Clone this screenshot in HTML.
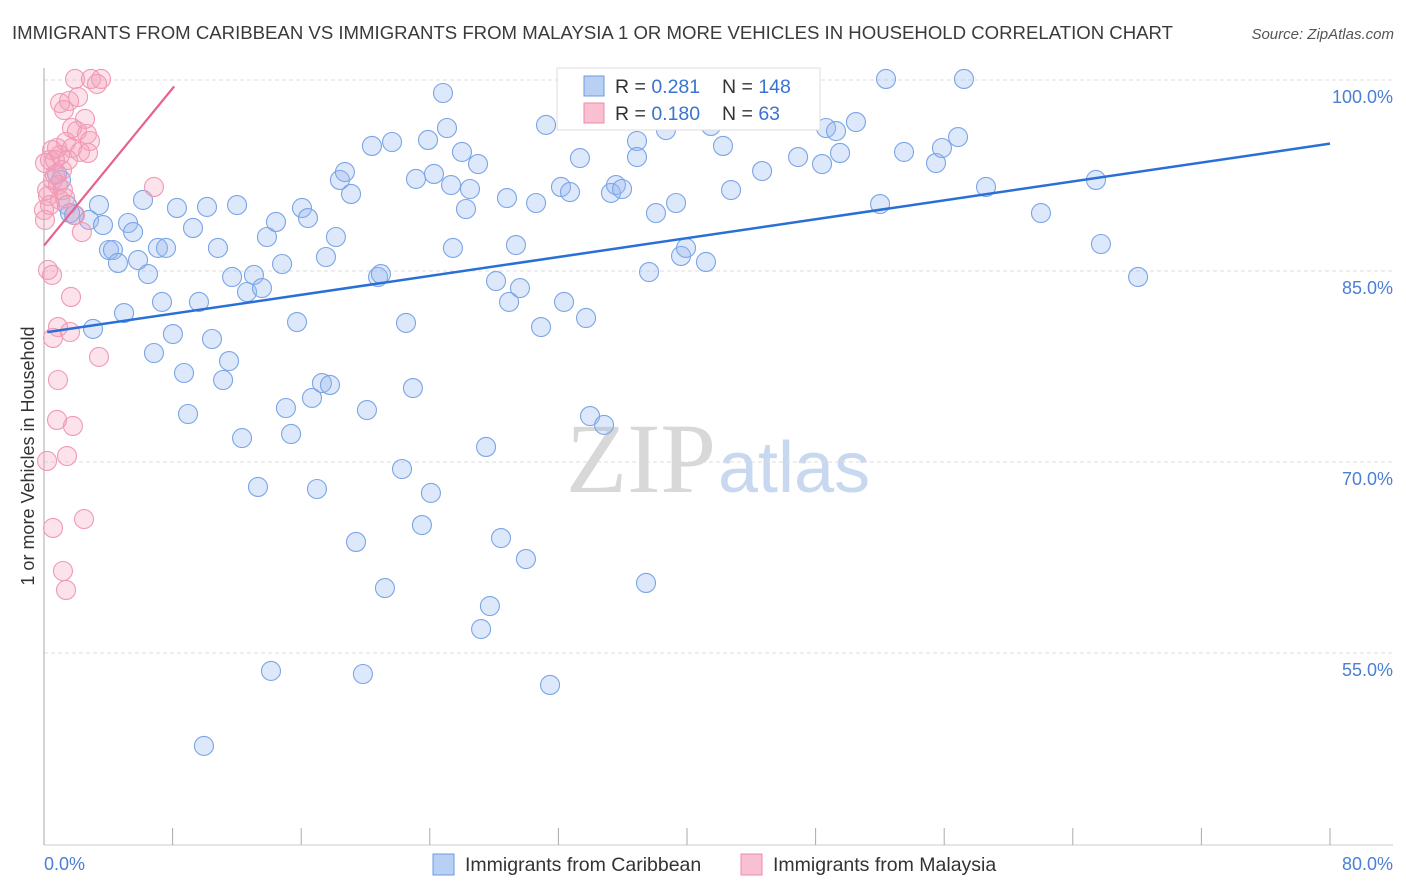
<!DOCTYPE html>
<html><head><meta charset="utf-8"><style>
body{margin:0;background:#fff;font-family:"Liberation Sans",sans-serif;}
svg{display:block}
</style></head><body>
<svg id="chart" width="1406" height="892">
<text x="12" y="39" font-size="18.6" fill="#3a3a3a" textLength="1161">IMMIGRANTS FROM CARIBBEAN VS IMMIGRANTS FROM MALAYSIA 1 OR MORE VEHICLES IN HOUSEHOLD CORRELATION CHART</text>
<text x="1394" y="39" font-size="15" font-style="italic" fill="#555" text-anchor="end">Source: ZipAtlas.com</text>
<text x="716" y="492" font-size="100" font-family="Liberation Serif,serif" fill="#d8d8d8" text-anchor="end">ZIP</text>
<text x="718" y="492" font-size="72" fill="#c8d8f0">atlas</text>
<g id="grid"></g><g id="axes"></g><g id="pts"></g><g id="trends"></g>
<text transform="translate(34,456) rotate(-90)" font-size="18" fill="#333" text-anchor="middle">1 or more Vehicles in Household</text>
<text x="44" y="870" font-size="18" fill="#4a7fd4">0.0%</text>
<text x="1393" y="870" font-size="18" fill="#4a7fd4" text-anchor="end">80.0%</text>
<g>
<rect x="557" y="68" width="263" height="62" fill="#fff" stroke="#ddd"/>
<rect x="584" y="76" width="20" height="20" fill="#b8d0f4" stroke="#6b9be0"/>
<rect x="584" y="103" width="20" height="20" fill="#f8c0d0" stroke="#ee8aaa"/>
<text x="615" y="93" font-size="19.5" fill="#333">R = <tspan fill="#3a74d0">0.281</tspan></text>
<text x="722" y="93" font-size="19.5" fill="#333">N = <tspan fill="#3a74d0">148</tspan></text>
<text x="615" y="120" font-size="19.5" fill="#333">R = <tspan fill="#3a74d0">0.180</tspan></text>
<text x="722" y="120" font-size="19.5" fill="#333">N = <tspan fill="#3a74d0"> 63</tspan></text>
</g>
<g>
<rect x="433" y="854" width="21" height="21" fill="#b8d0f4" stroke="#6b9be0"/>
<text x="465" y="871" font-size="19.5" fill="#333">Immigrants from Caribbean</text>
<rect x="741" y="854" width="21" height="21" fill="#f8c0d0" stroke="#ee8aaa"/>
<text x="773" y="871" font-size="19.5" fill="#333">Immigrants from Malaysia</text>
</g>
</svg>
<script>
const yTicks=[100,85,70,55];
const xTicks=[0,8,16,24,32,40,48,56,64,72,80];
const bluePx=[[67,205],[99,205],[74,215],[89,220],[103,225],[93,329],[109,250],[113,250],[118,263],[124,313],[128,223],[133,232],[143,200],[138,260],[148,274],[154,353],[158,248],[162,302],[166,248],[173,334],[177,208],[184,373],[188,414],[193,228],[199,302],[207,207],[212,339],[218,248],[223,380],[229,361],[232,277],[237,205],[242,438],[247,292],[254,275],[258,487],[262,288],[267,237],[271,671],[276,222],[282,264],[286,408],[291,434],[297,322],[302,208],[308,218],[312,398],[317,489],[322,383],[326,257],[330,385],[336,237],[340,180],[345,172],[351,194],[356,542],[363,674],[367,410],[372,146],[378,277],[381,274],[385,588],[392,142],[402,469],[406,323],[413,388],[416,179],[422,525],[428,140],[431,493],[434,174],[443,93],[447,128],[451,185],[453,248],[462,152],[466,209],[470,189],[478,164],[481,629],[486,447],[490,606],[496,281],[501,538],[507,198],[509,302],[516,245],[520,288],[526,559],[536,203],[541,327],[546,125],[550,685],[561,187],[564,302],[570,192],[580,158],[586,318],[590,416],[604,425],[611,193],[616,185],[622,189],[637,141],[637,157],[646,583],[649,272],[656,213],[666,130],[676,203],[681,256],[686,248],[706,262],[711,126],[723,146],[731,190],[745,107],[763,81],[762,171],[786,100],[798,157],[822,164],[826,128],[836,131],[840,153],[856,122],[880,204],[886,79],[904,152],[936,163],[942,148],[958,137],[964,79],[986,187],[1041,213],[1096,180],[1101,244],[1138,277],[204,746],[61,180],[57,174],[70,213],[779,118],[773,104]];
const pinkPx=[[44,210],[47,190],[45,220],[50,160],[52,150],[55,175],[58,185],[60,155],[48,270],[52,275],[71,297],[58,327],[70,332],[53,338],[99,357],[58,380],[57,420],[73,426],[67,456],[47,461],[84,519],[53,528],[63,571],[66,590],[75,79],[91,79],[101,79],[97,84],[60,103],[69,101],[78,97],[64,110],[85,119],[72,128],[77,131],[87,134],[66,142],[90,141],[72,148],[80,152],[88,153],[68,160],[62,170],[154,187],[65,198],[82,232],[57,148],[55,160],[48,196],[50,205],[53,180],[60,200],[63,190],[75,215],[45,163]];
const blueX=bluePx.map(p=>+((p[0]-44)*80/1286).toFixed(2));
const blueY=bluePx.map(p=>+(100-(p[1]-80)*15/191).toFixed(2));
const pinkX=pinkPx.map(p=>+((p[0]-44)*80/1286).toFixed(2));
const pinkY=pinkPx.map(p=>+(100-(p[1]-80)*15/191).toFixed(2));
const blueTrend=[[0.2,80.2],[80,95.0]];
const pinkTrend=[[0,87.0],[8.1,99.5]];
const sx=v=>44+v*1286/80, sy=v=>80+(100-v)*191/15;
const NS='http://www.w3.org/2000/svg';
function mk(t,a,parent){const e=document.createElementNS(NS,t);for(const k in a)e.setAttribute(k,a[k]);document.getElementById(parent).appendChild(e);return e;}
yTicks.forEach(v=>{
 const l=mk('line',{x1:44,x2:1393,y1:sy(v),y2:sy(v),stroke:'#dcdcdc','stroke-dasharray':'4 3'},'grid');
 
 
 const t=mk('text',{x:1393,y:sy(v)+23,'font-size':18,fill:'#4a7fd4','text-anchor':'end'},'grid');
 t.textContent=v.toFixed(1)+'%';
 
 
});
const ax=mk('line',{x1:44,x2:44,y1:68,y2:845,stroke:'#aaa'},'axes');


const bx=mk('line',{x1:44,x2:1393,y1:845,y2:845,stroke:'#ccc'},'axes');


xTicks.forEach(v=>{
 const t=mk('line',{x1:sx(v),x2:sx(v),y1:828,y2:845,stroke:'#aaa'},'axes');
 
 
});
function pts(X,Y,fill,stroke,name){X.forEach((x,i)=>{
 const c=mk('circle',{cx:sx(x),cy:sy(Y[i]),r:9.5,fill:fill,stroke:stroke,'stroke-width':1.1},'pts');
 
 
});}
pts(blueX,blueY,'rgba(150,185,240,0.32)','#7aa5e6','caribbean-point');
pts(pinkX,pinkY,'rgba(245,160,185,0.3)','#f09ab5','malaysia-point');
const bt=mk('line',{x1:sx(blueTrend[0][0]),y1:sy(blueTrend[0][1]),x2:sx(blueTrend[1][0]),y2:sy(blueTrend[1][1]),stroke:'#2a6fd6','stroke-width':2.5},'trends');


const pt=mk('line',{x1:sx(pinkTrend[0][0]),y1:sy(pinkTrend[0][1]),x2:sx(pinkTrend[1][0]),y2:sy(pinkTrend[1][1]),stroke:'#e8628e','stroke-width':2.2},'trends');


</script>
</body></html>
